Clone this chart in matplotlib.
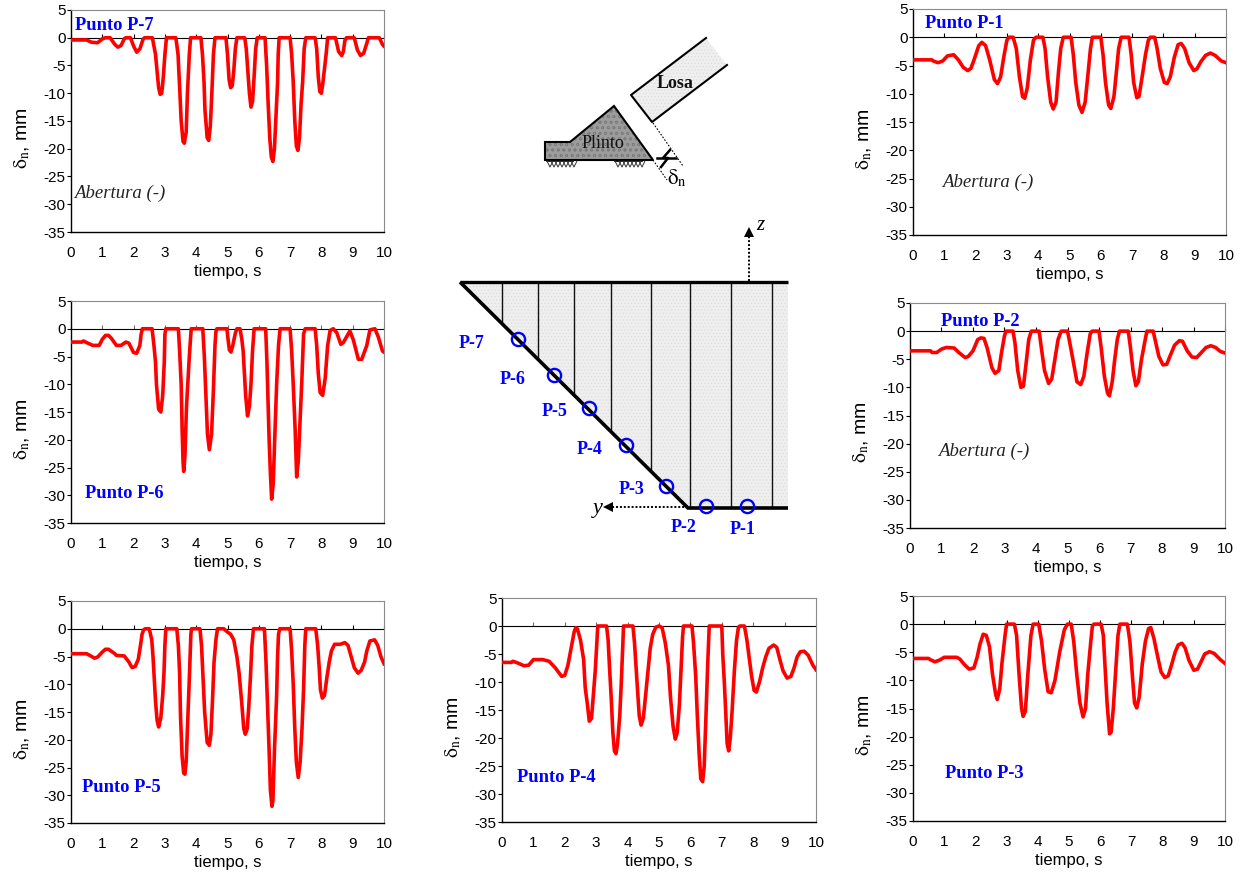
import numpy as np
import matplotlib
matplotlib.use('Agg')
import matplotlib.pyplot as plt
from matplotlib.patches import Polygon

plt.rcParams['font.family'] = ['Liberation Sans', 'DejaVu Sans']
plt.rcParams['mathtext.fontset'] = 'stix'
plt.rcParams['axes.unicode_minus'] = False
plt.rcParams['hatch.linewidth'] = 0.5

W, H = 1241, 875

# (time s, delta_n mm)
p7 = [(0,-0.4),(0.5,-0.4),(0.65,-0.8),(0.85,-0.9),(1.0,-0.2),(1.1,0),(1.25,0),(1.4,-1.2),(1.5,-1.7),(1.6,-1.4),(1.7,-0.2),(1.75,0),(1.9,0),(2.0,-1.5),(2.1,-2.6),(2.2,-2.0),(2.3,-0.3),(2.35,0),(2.6,0),(2.7,-3),(2.75,-6),(2.8,-9),(2.85,-10.2),(2.9,-10),(2.95,-7),(3.0,-3),(3.05,0),(3.35,0),(3.42,-3),(3.48,-10),(3.52,-15),(3.58,-18.7),(3.62,-19),(3.68,-17),(3.72,-10),(3.78,-3),(3.82,0),(4.15,0),(4.2,-3),(4.25,-8),(4.28,-13),(4.35,-18),(4.4,-18.5),(4.45,-16),(4.5,-10),(4.55,-3),(4.6,0),(4.95,0),(5.0,-3),(5.05,-7.5),(5.1,-9),(5.15,-8.7),(5.2,-6),(5.25,-2),(5.3,0),(5.55,0),(5.6,-2),(5.65,-6),(5.7,-10),(5.75,-12.5),(5.8,-11.5),(5.85,-7),(5.9,-2),(5.95,0),(6.2,0),(6.25,-5),(6.3,-12),(6.35,-18),(6.4,-21.5),(6.45,-22.3),(6.5,-20),(6.55,-14),(6.6,-8),(6.62,-3),(6.65,0),(7.0,0),(7.05,-3),(7.1,-8),(7.15,-15),(7.2,-19.5),(7.25,-20.3),(7.3,-18),(7.35,-12),(7.4,-8),(7.45,-2),(7.5,0),(7.8,0),(7.85,-2),(7.9,-7),(7.95,-9.7),(8.0,-10),(8.05,-8),(8.15,-3),(8.2,0),(8.45,0),(8.55,-2.5),(8.65,-3.2),(8.7,-2.5),(8.75,-0.5),(8.8,0),(9.05,0),(9.15,-2.2),(9.25,-3.2),(9.35,-2.8),(9.45,-1),(9.5,0),(9.85,0),(9.95,-1.2),(10,-1.5)]
p6 = [(0,-2.4),(0.35,-2.4),(0.4,-2.2),(0.5,-2.5),(0.7,-3),(0.9,-3),(1.0,-1.9),(1.1,-1.2),(1.2,-1.2),(1.3,-1.8),(1.45,-3),(1.6,-3),(1.75,-2.4),(1.85,-2.6),(2.0,-4.3),(2.1,-4.4),(2.2,-3),(2.24,-1),(2.28,0),(2.59,0),(2.65,-3),(2.7,-6),(2.73,-10),(2.8,-14.5),(2.87,-15),(2.93,-12),(2.98,-6),(3.0,-1),(3.03,0),(3.43,0),(3.47,-4),(3.52,-10),(3.55,-18),(3.58,-24),(3.6,-25.7),(3.64,-23),(3.69,-14),(3.78,-5),(3.84,0),(4.21,0),(4.26,-5),(4.31,-12),(4.36,-19),(4.42,-21.8),(4.49,-19),(4.55,-11),(4.6,-3),(4.63,-0.5),(4.66,0),(4.98,0),(5.02,-2),(5.06,-3.8),(5.11,-4.2),(5.17,-3),(5.25,-0.8),(5.3,0),(5.4,0),(5.46,-2),(5.5,-4),(5.55,-9),(5.58,-12),(5.64,-15.7),(5.7,-14),(5.75,-10),(5.8,-4),(5.85,0),(6.22,0),(6.26,-6),(6.29,-12),(6.33,-20),(6.37,-26),(6.41,-30.7),(6.46,-28),(6.52,-18),(6.57,-10),(6.63,-3),(6.68,0),(7.0,0),(7.05,-4),(7.1,-10),(7.16,-18),(7.21,-26.7),(7.26,-24),(7.37,-10),(7.43,-1),(7.48,0),(7.8,0),(7.85,-3),(7.9,-8),(7.96,-11.5),(8.04,-12),(8.12,-9),(8.2,-3),(8.28,-0.3),(8.38,0),(8.49,-0.7),(8.62,-2.8),(8.7,-2.5),(8.91,-0.4),(9.02,-2),(9.18,-5.5),(9.29,-5.5),(9.45,-3),(9.55,-0.2),(9.71,0),(9.82,-1.5),(9.95,-4),(10,-4.2)]
p5 = [(0,-4.5),(0.5,-4.5),(0.6,-4.8),(0.75,-5.3),(0.85,-5.1),(1.0,-4.2),(1.1,-3.7),(1.2,-3.7),(1.4,-4.5),(1.45,-4.8),(1.7,-4.9),(1.85,-6),(1.95,-7),(2.05,-6.8),(2.15,-5.5),(2.22,-3),(2.27,-1),(2.32,-0.2),(2.37,0),(2.5,0),(2.58,-2),(2.62,-5),(2.66,-9),(2.7,-13),(2.75,-16.5),(2.8,-17.7),(2.87,-16),(2.93,-12),(2.97,-8),(3.0,-3),(3.03,0),(3.38,0),(3.43,-3),(3.47,-8),(3.5,-16),(3.55,-23),(3.6,-26),(3.64,-26.2),(3.68,-24),(3.74,-15),(3.78,-9),(3.83,-1),(3.85,0),(4.12,0),(4.17,-3),(4.22,-9),(4.27,-15),(4.35,-20.5),(4.42,-21),(4.47,-19),(4.52,-13),(4.57,-6),(4.63,-2),(4.68,0),(4.88,0),(5.0,-0.6),(5.1,-1),(5.2,-2),(5.3,-5),(5.37,-8),(5.45,-13),(5.52,-18),(5.57,-19),(5.63,-18),(5.68,-14),(5.73,-9),(5.78,-3),(5.83,0),(6.18,0),(6.23,-6),(6.28,-14),(6.33,-22),(6.37,-29),(6.42,-32),(6.45,-31),(6.5,-22),(6.57,-12),(6.6,-5),(6.63,-1),(6.67,0),(7.0,0),(7.05,-4),(7.1,-10),(7.15,-18),(7.2,-24),(7.26,-26.8),(7.32,-24),(7.38,-18),(7.43,-11),(7.47,-3),(7.5,0),(7.82,0),(7.88,-3),(7.93,-7),(7.97,-11),(8.03,-12.5),(8.1,-12),(8.17,-9),(8.25,-6),(8.32,-4),(8.42,-2.8),(8.6,-2.8),(8.75,-2.5),(8.85,-3),(8.95,-5),(9.05,-7),(9.17,-8),(9.27,-7.5),(9.38,-6),(9.45,-4),(9.55,-2.2),(9.7,-2),(9.8,-3),(9.9,-5),(10,-6.3)]
p4 = [(0,-6.5),(0.3,-6.5),(0.35,-6.3),(0.5,-6.6),(0.7,-7.1),(0.85,-7),(1.0,-6),(1.3,-6),(1.5,-6.3),(1.7,-7.5),(1.9,-9),(2.0,-8.8),(2.1,-7),(2.2,-4),(2.3,-1),(2.35,-0.3),(2.4,-0.5),(2.5,-2.5),(2.6,-6),(2.65,-11),(2.72,-14),(2.78,-17),(2.85,-16.5),(2.9,-13),(2.97,-8),(3.03,-2),(3.05,0),(3.33,0),(3.38,-2.5),(3.43,-8),(3.48,-13),(3.53,-19),(3.58,-22.3),(3.63,-22.8),(3.68,-21),(3.75,-16),(3.8,-10),(3.85,-3),(3.87,0),(4.17,0),(4.22,-3),(4.3,-10),(4.37,-16),(4.43,-17.7),(4.5,-16.5),(4.58,-12),(4.65,-8),(4.72,-4),(4.8,-1.5),(4.9,-0.2),(5.0,0),(5.1,-0.3),(5.2,-3),(5.3,-7),(5.37,-13),(5.45,-18),(5.52,-20.2),(5.58,-19),(5.65,-14),(5.7,-8),(5.75,-2),(5.78,0),(6.05,0),(6.1,-3),(6.17,-9),(6.22,-16),(6.28,-23),(6.33,-27.3),(6.39,-27.8),(6.44,-25),(6.49,-17),(6.55,-7),(6.6,0),(7.0,0),(7.03,-5),(7.08,-10),(7.13,-16),(7.17,-21),(7.22,-22.3),(7.27,-20),(7.33,-15),(7.4,-8),(7.47,-2.5),(7.53,-0.2),(7.58,0),(7.72,0),(7.8,-2.5),(7.88,-6),(7.95,-9),(8.03,-11.5),(8.1,-11.8),(8.2,-10),(8.3,-7.5),(8.4,-5.5),(8.5,-4),(8.65,-3.4),(8.75,-3.8),(8.85,-6),(8.95,-8),(9.08,-9.3),(9.2,-9),(9.3,-7.5),(9.4,-5.5),(9.5,-4.6),(9.62,-4.5),(9.75,-5.2),(9.9,-7),(10,-7.8)]
p3 = [(0,-6.1),(0.5,-6.1),(0.55,-6.3),(0.7,-6.7),(0.85,-6.4),(1.0,-5.9),(1.4,-5.9),(1.5,-6.2),(1.65,-7.2),(1.8,-8),(1.95,-7.8),(2.05,-6),(2.15,-3.5),(2.25,-1.8),(2.35,-2),(2.45,-4),(2.55,-9),(2.65,-12.5),(2.7,-13.4),(2.78,-11.5),(2.85,-7),(2.95,-2),(3.0,0),(3.25,0),(3.32,-2),(3.4,-9),(3.48,-15),(3.53,-16.4),(3.6,-15.5),(3.68,-9),(3.78,-2),(3.85,0),(4.03,0),(4.12,-3),(4.22,-8),(4.33,-12),(4.43,-12.2),(4.55,-10),(4.7,-5),(4.85,-1),(4.95,0),(5.07,0),(5.15,-3),(5.25,-9),(5.35,-14),(5.45,-16.5),(5.53,-15),(5.6,-9),(5.7,-3),(5.75,-0.3),(5.8,0),(6.03,0),(6.1,-2),(6.15,-7),(6.22,-14),(6.3,-19.5),(6.35,-19.2),(6.42,-15),(6.5,-8),(6.57,-2),(6.63,0),(6.87,0),(6.95,-3),(7.03,-9),(7.1,-14),(7.17,-14.9),(7.25,-13),(7.35,-7),(7.45,-3),(7.55,-0.8),(7.62,-0.6),(7.72,-2.5),(7.85,-6),(7.95,-8.5),(8.07,-9.5),(8.18,-9.2),(8.3,-7),(8.4,-5),(8.5,-3.7),(8.62,-3.4),(8.72,-4.2),(8.85,-6.5),(9.0,-8.2),(9.12,-8),(9.25,-6.5),(9.35,-5.3),(9.5,-4.9),(9.65,-5.2),(9.85,-6.3),(10,-7)]
p1 = [(0,-4),(0.6,-4),(0.65,-4.2),(0.8,-4.5),(0.95,-4.2),(1.1,-3.3),(1.3,-3.1),(1.45,-4),(1.6,-5.3),(1.75,-5.9),(1.85,-5.5),(1.95,-4),(2.1,-1.5),(2.2,-0.9),(2.32,-1.5),(2.45,-4),(2.6,-7.5),(2.7,-8.2),(2.8,-7),(2.9,-3.5),(3.0,-0.5),(3.07,0),(3.2,0),(3.3,-2),(3.4,-7),(3.5,-10.5),(3.57,-10.8),(3.65,-9),(3.75,-4),(3.85,-0.5),(3.93,0),(4.15,0),(4.22,-2),(4.3,-7),(4.4,-11.5),(4.48,-12.7),(4.57,-11.5),(4.65,-6),(4.72,-2),(4.8,0),(5.05,0),(5.12,-3),(5.2,-8),(5.3,-12),(5.4,-13.3),(5.5,-11.5),(5.6,-6),(5.67,-2),(5.73,0),(6.0,0),(6.07,-3),(6.15,-8),(6.25,-12),(6.32,-12.6),(6.42,-10.5),(6.5,-6),(6.57,-2),(6.65,0),(6.9,0),(6.97,-3),(7.05,-8),(7.15,-10.7),(7.22,-10.5),(7.32,-7),(7.43,-3),(7.52,-0.5),(7.58,0),(7.72,0),(7.8,-2),(7.9,-5.5),(8.03,-8),(8.12,-8.2),(8.22,-7),(8.35,-3.5),(8.47,-1.3),(8.57,-1.1),(8.68,-2),(8.82,-4.5),(8.97,-5.9),(9.07,-5.6),(9.2,-4.3),(9.35,-3.2),(9.5,-2.8),(9.65,-3.2),(9.85,-4.2),(10,-4.5)]
p2 = [(0,-3.5),(0.65,-3.5),(0.7,-3.8),(0.85,-3.8),(1.0,-3.2),(1.15,-2.9),(1.4,-3),(1.55,-3.8),(1.75,-4.7),(1.85,-4.5),(2.0,-3.5),(2.15,-1.5),(2.25,-1.2),(2.35,-1.3),(2.45,-3),(2.6,-6.5),(2.7,-7.5),(2.82,-7),(2.9,-4),(3.0,-0.8),(3.05,0),(3.27,0),(3.33,-2),(3.42,-7),(3.52,-10),(3.6,-9.8),(3.68,-6),(3.77,-1.5),(3.85,0),(4.1,0),(4.17,-3),(4.27,-7),(4.4,-9.3),(4.5,-8.5),(4.6,-5),(4.7,-1.5),(4.8,0),(5.0,0),(5.07,-2),(5.17,-5),(5.3,-9),(5.42,-9.5),(5.52,-8),(5.62,-4),(5.72,-0.5),(5.78,0),(6.0,0),(6.07,-3),(6.17,-8),(6.27,-11),(6.33,-11.5),(6.42,-9),(6.5,-5),(6.58,-1.5),(6.65,0),(6.93,0),(7.0,-3),(7.08,-7),(7.17,-9.7),(7.25,-9),(7.35,-5),(7.45,-2),(7.52,0),(7.72,0),(7.8,-2),(7.9,-4.5),(8.03,-6),(8.15,-5.9),(8.25,-4.5),(8.4,-2.5),(8.55,-1.7),(8.65,-1.8),(8.8,-3.5),(8.95,-4.6),(9.1,-4.7),(9.25,-3.8),(9.4,-2.9),(9.55,-2.6),(9.7,-2.9),(9.85,-3.6),(10,-3.9)]

x_ticks = list(range(11))
y_ticks = [5, 0, -5, -10, -15, -20, -25, -30, -35]

# panel: series, box in pixels (left, top, right, bottom), zero line colour
panels = [
    (p7, (71, 10, 384, 232), 'black'),
    (p6, (71, 301, 384, 523), '#707070'),
    (p5, (71, 601, 384, 823), 'black'),
    (p4, (502, 598, 816, 822), '#707070'),
    (p3, (913, 596, 1225, 821), 'black'),
    (p1, (913, 9, 1226, 235), 'black'),
    (p2, (910, 303, 1225, 528), 'black'),
]

# panel captions, pixel centres
punto_labels = [('Punto P-7', 114, 26), ('Punto P-6', 124, 494), ('Punto P-5', 121, 787),
                ('Punto P-4', 556, 778), ('Punto P-3', 984, 774), ('Punto P-1', 964, 24),
                ('Punto P-2', 980, 322)]
abertura_labels = [(120, 193), (988, 182), (984, 451)]

# schematic outlines, pixels
losa = [(706, 38), (631, 95), (652, 122), (727, 65)]
plinto = [(545, 142), (570, 142), (614, 106), (653, 160), (545, 160)]
section = [(460, 282), (788, 282), (788, 508), (688, 508)]
joints = [502, 538, 574, 611, 651, 690, 731, 772]
circles = [(518, 339), (554, 375), (589, 408), (626, 445), (666, 486), (706, 506), (747, 506)]
point_labels = [('P-7', 472, 343), ('P-6', 513, 379), ('P-5', 555, 412), ('P-4', 590, 449),
                ('P-3', 632, 489), ('P-2', 684, 528), ('P-1', 743, 529)]


def add_panel(fig, series, box, zero_color):
    left, top, right, bottom = box
    width, height = right - left, bottom - top
    ax = fig.add_axes([left / W, 1 - bottom / H, width / W, height / H])
    data = np.array(series)
    ax.plot(data[:, 0], data[:, 1], color='#ff0000', lw=2.6, zorder=5, solid_joinstyle='round')
    ax.set_xlim(0, 10)
    ax.set_ylim(-35, 5)
    ax.set_xticks(x_ticks)
    ax.set_yticks(y_ticks)
    ax.tick_params(axis='x', length=0, labelsize=11, pad=10)
    ax.tick_params(axis='y', length=3, width=0.8, labelsize=11, pad=1)
    ax.spines['top'].set_color('#8a8a8a')
    ax.spines['right'].set_color('#8a8a8a')
    for s in ['left', 'bottom']:
        ax.spines[s].set_linewidth(1.0)
    # x axis crosses at zero, labels stay at the bottom
    sec = ax.secondary_xaxis(35 / 40)
    sec.set_xticks(x_ticks)
    sec.tick_params(axis='x', direction='out', length=3, width=0.8, labelbottom=False,
                    labeltop=False, color=zero_color)
    sec.spines['bottom'].set_color(zero_color)
    sec.spines['bottom'].set_linewidth(1.0)
    ax.set_xlabel('tiempo, s', fontsize=12, labelpad=3)
    ax.set_ylabel(r'$\mathrm{\delta}_{\mathrm{n}}$, mm', fontsize=14)
    # label sits lower than the middle of the axis in the original
    ax.yaxis.set_label_coords(-39 / width, 0.5 - 17 / height)
    return ax


fig = plt.figure(figsize=(W / 100, H / 100), dpi=100)

for series, box, zero_color in panels:
    add_panel(fig, series, box, zero_color)

# overlay in pixel coordinates for the schematic and captions
ov = fig.add_axes([0, 0, 1, 1])
ov.set_xlim(0, W)
ov.set_ylim(H, 0)
ov.axis('off')
ov.patch.set_alpha(0)

for text, x, y in punto_labels:
    ov.text(x, y, text, color='#0000ff', family='Liberation Serif', weight='bold',
            fontsize=13.3, ha='center', va='center')
for x, y in abertura_labels:
    ov.text(x, y, 'Abertura (-)', color='#222222', family='Liberation Serif', style='italic',
            fontsize=13.5, ha='center', va='center')

# slab and plinth
ov.add_patch(Polygon(losa, closed=True, facecolor='#efefef', edgecolor='#dcdcdc', lw=0,
                     hatch='.....', zorder=1))
ov.plot(*zip(*losa), color='black', lw=1.5, zorder=2)
ov.add_patch(Polygon(plinto, closed=True, facecolor='#9c9c9c', edgecolor='#7c7c7c', hatch='ooo',
                     lw=0, zorder=1))
ov.add_patch(Polygon(plinto, closed=True, fill=False, edgecolor='black', lw=1.5, zorder=2))
for x0, x1 in [(547, 573), (615, 642)]:
    ov.plot([x0, x1], [161, 161], color='black', lw=1.2, zorder=2)
    for x in np.arange(x0, x1, 4):
        ov.plot([x, x + 3, x + 6], [161, 167, 161], color='#333333', lw=0.7, zorder=2)
ov.plot([653, 683], [123, 166], color='black', lw=0.8, ls=(0, (1.5, 1.5)))
ov.plot([653, 667], [160, 180], color='black', lw=0.8, ls=(0, (1.5, 1.5)))
ov.plot([657, 676], [158, 158], color='black', lw=1.8)
ov.plot([670, 663, 668, 661], [150, 158, 158, 167], color='black', lw=1.8)
ov.text(603, 143, 'Plinto', family='Liberation Serif', fontsize=13, ha='center', va='center',
        color='#111111', zorder=5)
ov.text(675, 84, 'Losa', family='Liberation Serif', weight='bold', fontsize=13, ha='center',
        va='center', color='#111111', zorder=5)
ov.text(677, 178, r'$\mathrm{\delta}_{\mathrm{n}}$', fontsize=15, ha='center', va='center')

# dam section
ov.add_patch(Polygon(section, closed=True, facecolor='#efefef', edgecolor='#dcdcdc', lw=0,
                     hatch='.....', zorder=1))
ov.plot(*zip(*section[:2]), color='black', lw=2.4, zorder=3, solid_capstyle='butt')
ov.plot([section[0][0], section[3][0], section[2][0]], [section[0][1], section[3][1], section[2][1]],
        color='black', lw=2.6, zorder=3, solid_joinstyle='miter', solid_capstyle='butt')
for x in joints:
    y_end = np.interp(x, [section[0][0], section[3][0], section[2][0]],
                      [section[0][1], section[3][1], section[2][1]])
    ov.plot([x, x], [section[0][1], y_end], color='#111111', lw=1.0, zorder=2)
cx, cy = zip(*circles)
ov.plot(cx, cy, ls='none', marker='o', ms=9.5, mfc='none', mec='#0000ff', mew=1.7, zorder=4)
for text, x, y in point_labels:
    ov.text(x, y, text, color='#0000ff', family='Liberation Serif', weight='bold',
            fontsize=13, ha='center', va='center')

# coordinate arrows
ov.plot([688, 612], [507, 507], color='black', lw=1.4, ls=(0, (1, 1)))
ov.plot([608], [507], marker='<', ms=7, color='black', mew=0)
ov.plot([749, 749], [281, 234], color='black', lw=1.4, ls=(0, (1, 1)))
ov.plot([749], [232], marker='^', ms=7, color='black', mew=0)
ov.text(598, 508, 'y', family='Liberation Serif', style='italic', fontsize=16, ha='center',
        va='center')
ov.text(760, 225, 'z', family='Liberation Serif', style='italic', fontsize=15, ha='center',
        va='center')

fig.savefig('out.png', dpi=100)
